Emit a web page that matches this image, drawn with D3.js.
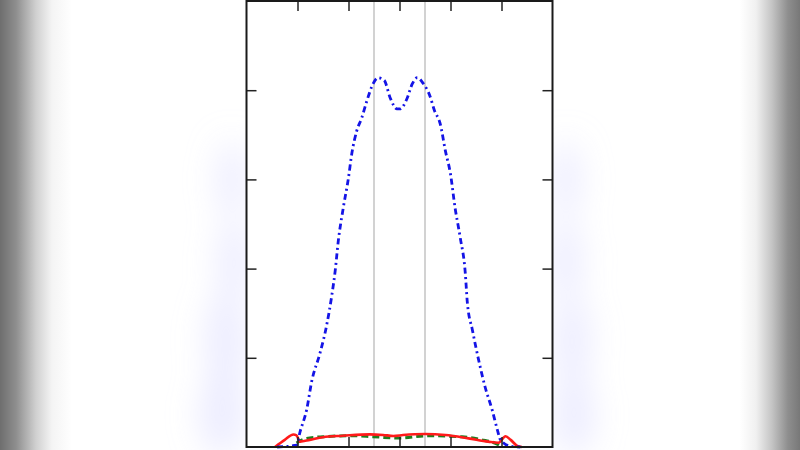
<!DOCTYPE html>
<html>
<head>
<meta charset="utf-8">
<script src="https://cdn.jsdelivr.net/npm/d3@7"></script>
<style>
  html, body { margin: 0; padding: 0; background: #fff; }
  svg { display: block; }
</style>
</head>
<body>
<div id="chart"></div>
<script>
// blue dash-dot curve (x, y)
const blueX = [-2.4, -2.02, -1.95, -1.82, -1.72, -1.56, -1.43, -1.33, -1.26, -1.2, -1.1, -1.0, -0.935, -0.84, -0.74, -0.64, -0.52, -0.42, -0.3, -0.18, -0.05, 0.01, 0.15, 0.25, 0.35, 0.46, 0.6, 0.68, 0.8, 0.9, 1.0, 1.09, 1.19, 1.29, 1.33, 1.43, 1.55, 1.68, 1.82, 1.92, 1.98, 2.17, 2.37];
const blueY = [0, 0.02, 0.17, 0.42, 0.74, 1.05, 1.36, 1.69, 1.98, 2.31, 2.69, 3.02, 3.29, 3.54, 3.69, 3.88, 4.07, 4.14, 4.11, 3.91, 3.79, 3.79, 3.91, 4.07, 4.14, 4.08, 3.93, 3.78, 3.62, 3.32, 3.06, 2.68, 2.35, 1.95, 1.62, 1.31, 0.98, 0.67, 0.41, 0.19, 0.08, 0.01, 0];

// red solid curve
const redX = [-2.44, -2.25, -2.08, -2.02, -1.95, -1.76, -1.5, -1.11, -0.58, -0.32, -0.12, 0.07, 0.5, 0.9, 1.35, 1.74, 1.94, 2.08, 2.18, 2.31, 2.4];
const redY = [0.0, 0.08, 0.14, 0.13, 0.06, 0.08, 0.11, 0.126, 0.142, 0.135, 0.124, 0.134, 0.145, 0.134, 0.097, 0.06, 0.048, 0.12, 0.08, 0.012, 0.0];

// green dashed curve
const greenX = [-2.02, -1.82, -1.5, -0.91, -0.52, 0, 0.56, 1.23, 1.62, 1.88, 2.02];
const greenY = [0.045, 0.097, 0.115, 0.126, 0.115, 0.1, 0.126, 0.115, 0.08, 0.042, 0.0];

// reference vertical lines
const refLines = [-0.5, 0.5];
const xTicks = [-2, -1, 0, 1, 2];
const yTicks = [1, 2, 3, 4];

const W = 800, H = 450;
const margin = { top: 1, left: 246.5 };
const width = 306, height = 446;

const svg = d3.select('#chart').append('svg')
    .attr('width', W)
    .attr('height', H);

// background: grey edges and faint lavender haze
const defs = svg.append('defs');
const lg = defs.append('linearGradient').attr('id', 'edge').attr('x1', 0).attr('x2', 1);
[[0, '#6e6e6e'], [0.02, '#8e8e8e'], [0.045, '#d0d0d0'], [0.065, '#f4f4f4'], [0.09, '#ffffff'],
 [0.925, '#ffffff'], [0.945, '#f0f0f0'], [0.965, '#c4c4c4'], [0.985, '#8e8e8e'], [1, '#787878']]
    .forEach(s => lg.append('stop').attr('offset', s[0]).attr('stop-color', s[1]));
svg.append('rect').attr('width', W).attr('height', H).attr('fill', 'url(#edge)');

defs.append('filter').attr('id', 'blur')
    .attr('filterUnits', 'userSpaceOnUse')
    .attr('x', 0).attr('y', 0).attr('width', W).attr('height', H)
    .append('feGaussianBlur').attr('stdDeviation', 16);
const haze = [[232, 180, 14, 40], [234, 260, 16, 40], [226, 340, 20, 50], [222, 415, 22, 40],
              [566, 180, 14, 40], [566, 260, 16, 40], [572, 340, 18, 45], [574, 415, 20, 40]];
svg.append('g').attr('filter', 'url(#blur)')
    .selectAll('ellipse').data(haze).join('ellipse')
    .attr('cx', d => d[0]).attr('cy', d => d[1]).attr('rx', d => d[2]).attr('ry', d => d[3])
    .attr('fill', '#d4d4ff').attr('opacity', 0.45);

const g = svg.append('g').attr('transform', `translate(${margin.left},${margin.top})`);

const x = d3.scaleLinear().domain([-3, 3]).range([0, width]);
const y = d3.scaleLinear().domain([0, 5]).range([height, 0]);

g.append('rect').attr('width', width).attr('height', height).attr('fill', '#fff');

g.append('g').selectAll('line').data(refLines).join('line')
    .attr('x1', d => x(d)).attr('x2', d => x(d))
    .attr('y1', 0).attr('y2', height)
    .attr('stroke', '#b4b4b4').attr('stroke-width', 1.2);

const line = d3.line().x(d => x(d[0])).y(d => y(d[1])).curve(d3.curveMonotoneX);

g.append('path')
    .datum(d3.zip(greenX, greenY))
    .attr('d', line)
    .attr('fill', 'none').attr('stroke', '#1e7d1e').attr('stroke-width', 3)
    .attr('stroke-dasharray', '7,4');

g.append('path')
    .datum(d3.zip(redX, redY))
    .attr('d', line)
    .attr('fill', 'none').attr('stroke', '#ff1a1a').attr('stroke-width', 2.6);

g.append('path')
    .datum(d3.zip(blueX, blueY))
    .attr('d', line)
    .attr('fill', 'none').attr('stroke', '#1414e6').attr('stroke-width', 2.8)
    .attr('stroke-dasharray', '6,3.5,2,3.5');

// axes with inward ticks on all four sides
const styleAxis = sel => {
    sel.select('.domain').remove();
    sel.selectAll('.tick line').attr('stroke', '#222').attr('stroke-width', 1.5);
};
g.append('g').attr('transform', `translate(0,${height})`)
    .call(d3.axisBottom(x).tickValues(xTicks).tickSize(-10).tickFormat('')).call(styleAxis);
g.append('g')
    .call(d3.axisTop(x).tickValues(xTicks).tickSize(-10).tickFormat('')).call(styleAxis);
g.append('g')
    .call(d3.axisLeft(y).tickValues(yTicks).tickSize(-10).tickFormat('')).call(styleAxis);
g.append('g').attr('transform', `translate(${width},0)`)
    .call(d3.axisRight(y).tickValues(yTicks).tickSize(-10).tickFormat('')).call(styleAxis);

g.append('rect').attr('width', width).attr('height', height)
    .attr('fill', 'none').attr('stroke', '#1a1a1a').attr('stroke-width', 2);
</script>
</body>
</html>
